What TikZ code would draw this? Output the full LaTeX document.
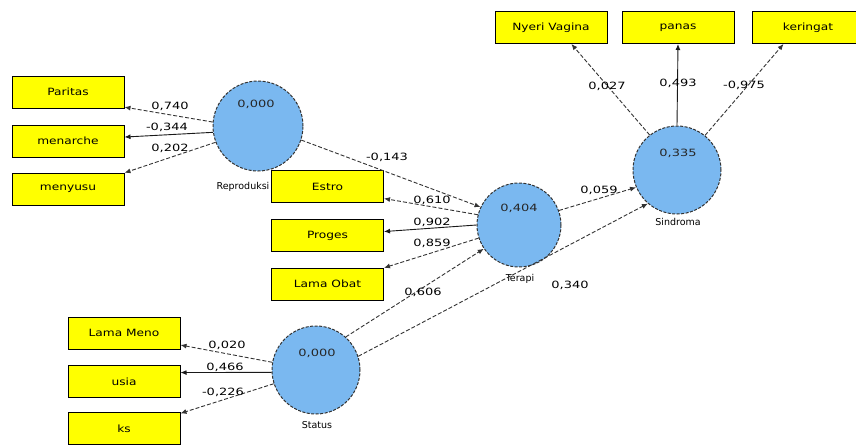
\documentclass[tikz,border=0pt]{standalone}
\usepackage{fontspec}
\usepackage{graphicx}
\setmainfont{DejaVu Sans}
\usetikzlibrary{arrows.meta}
\definecolor{lvblue}{RGB}{122,184,240}
\definecolor{boxyellow}{RGB}{255,255,0}
\newcommand{\bxt}[1]{\scalebox{1.22}[1]{#1}}
\newcommand{\nmt}[1]{\scalebox{1.3}[1]{#1}}
\begin{document}
\begin{tikzpicture}[x=1pt,y=-1pt,
  ind/.style={draw=black, line width=1pt, fill=boxyellow, minimum width=112pt, minimum height=32pt, inner sep=0pt, font=\fontsize{10}{12}\selectfont},
  lv/.style={circle, draw=black!80, dash pattern=on 3pt off 1.5pt, line width=1pt, fill=lvblue, inner sep=0pt},
  val/.style={inner sep=0pt, font=\fontsize{10}{12}\selectfont, text=black!85},
  lvname/.style={inner sep=0pt, font=\fontsize{9.5}{11}\selectfont},
  lk/.style={line width=0.9pt, draw=black!80, dash pattern=on 4pt off 2pt, -{Latex[length=6pt,width=5pt]}},
  lks/.style={line width=0.9pt, draw=black!90, -{Latex[length=6pt,width=5pt]}},
  num/.style={inner sep=0pt, font=\fontsize{10}{12}\selectfont}]
\useasboundingbox (0,0) rectangle (856,445);
\clip (0,0) rectangle (856,445);
\fill[white] (0,0) rectangle (856,445);

% indicator boxes
\node[ind] (paritas) at (68,92) {\bxt{Paritas}};
\node[ind] (menarche) at (68,141) {\bxt{menarche}};
\node[ind] (menyusu) at (68,189) {\bxt{menyusu}};
\node[ind] (estro) at (327.5,186.5) {\bxt{Estro}};
\node[ind] (proges) at (327.5,235.5) {\bxt{Proges}};
\node[ind] (lamaobat) at (327.5,284) {\bxt{Lama Obat}};
\node[ind] (lamameno) at (124,333) {\bxt{Lama Meno}};
\node[ind] (usia) at (124,381.5) {\bxt{usia}};
\node[ind] (ks) at (124,428.5) {\bxt{ks}};
\node[ind] (nyeri) at (551,27.5) {\bxt{Nyeri Vagina}};
\node[ind] (panas) at (678,27.5) {\bxt{panas}};
\node[ind] (keringat) at (808,27.5) {\bxt{keringat}};

% latent variables
\node[lv, minimum size=90pt] (repro) at (258,126) {};
\node[lv, minimum size=84pt] (terapi) at (519,225) {};
\node[lv, minimum size=88pt] (sindroma) at (677,170) {};
\node[lv, minimum size=88pt] (status) at (316,370) {};

\node[val] (vrepro) at (256,104) {\nmt{0,000}};
\node[val] (vterapi) at (519,208) {\nmt{0,404}};
\node[val] (vsind) at (678,153) {\nmt{0,335}};
\node[val] (vstatus) at (317,353) {\nmt{0,000}};

\node[lvname] (nrepro) at (243,187) {Reproduksi};
\node[lvname] (nterapi) at (520,279) {Terapi};
\node[lvname] (nsind) at (678,222) {Sindroma};
\node[lvname] (nstatus) at (317,425) {Status};

% outer loadings
\draw[lk] (repro.175) -- (paritas.-15);
\draw[lks] (repro.188) -- (menarche.4);
\draw[lk] (repro.201) -- (menyusu.16);
\draw[lk] (terapi.166) -- (estro.-12);
\draw[lks] (terapi.180) -- (proges.4);
\draw[lk] (terapi.198) -- (lamaobat.16);
\draw[lk] (status.170) -- (lamameno.-12);
\draw[lks] (status.183) -- (usia.9);
\draw[lk] (status.198) -- (ks.15);
\draw[lk] (sindroma.128) -- (nyeri.-39);
\draw[lks] (sindroma.90) -- (panas.south);
\draw[lk] (sindroma.51) -- (keringat.-146);

% inner paths
\draw[lk] (repro.-18) -- (terapi.155);
\draw[lk] (terapi.20) -- (sindroma.203);
\draw[lk] (status.48) -- (terapi.214);
\draw[lk] (status.18) -- (sindroma.229);

% labels
\node[num] (l1) at (170,106) {\nmt{0,740}};
\node[num] (l2) at (167,127) {\nmt{-0,344}};
\node[num] (l3) at (170,148) {\nmt{0,202}};
\node[num] (l4) at (387,157) {\nmt{-0,143}};
\node[num] (l5) at (432,200) {\nmt{0,610}};
\node[num] (l6) at (432,222) {\nmt{0,902}};
\node[num] (l7) at (432,243) {\nmt{0,859}};
\node[num] (l8) at (423,292) {\nmt{0,606}};
\node[num] (l9) at (599,190) {\nmt{0,059}};
\node[num] (l10) at (570,285) {\nmt{0,340}};
\node[num] (l11) at (607,86) {\nmt{0,027}};
\node[num] (l12) at (678,83) {\nmt{0,493}};
\node[num] (l13) at (744,85) {\nmt{-0,975}};
\node[num] (l14) at (227,345) {\nmt{0,020}};
\node[num] (l15) at (225,367) {\nmt{0,466}};
\node[num] (l16) at (223,392) {\nmt{-0,226}};
\end{tikzpicture}
\end{document}
